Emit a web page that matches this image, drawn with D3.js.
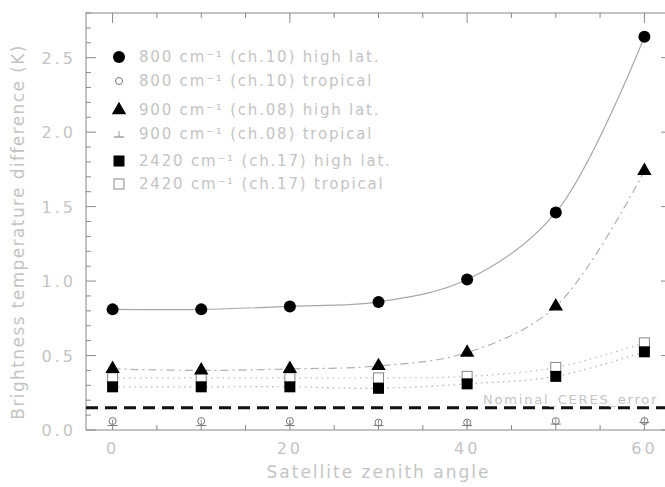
<!DOCTYPE html>
<html>
<head>
<meta charset="utf-8">
<script src="https://cdn.jsdelivr.net/npm/d3@7"></script>
<style>
  body { margin: 0; background: #fff; }
  text { font-family: "DejaVu Sans", sans-serif; fill: #c4c4c4; }
</style>
</head>
<body>
<div id="chart"></div>
<script>
// satellite zenith angle (deg)
const angles = [0, 10, 20, 30, 40, 50, 60];
// brightness temperature difference (K)
const hl800 = [0.81, 0.81, 0.83, 0.86, 1.01, 1.46, 2.64];
const tr800 = [0.06, 0.06, 0.06, 0.05, 0.05, 0.06, 0.06];
const hl900 = [0.41, 0.40, 0.41, 0.43, 0.52, 0.83, 1.74];
const tr900 = [0.05, 0.05, 0.05, 0.05, 0.05, 0.06, 0.07];
const hl2420 = [0.29, 0.29, 0.29, 0.28, 0.31, 0.36, 0.525];
const tr2420 = [0.35, 0.35, 0.35, 0.35, 0.36, 0.42, 0.585];
const ceresError = 0.15;
const xTicks = [0, 20, 40, 60];
const yTicks = [0, 0.5, 1.0, 1.5, 2.0, 2.5];
const legendLabels = [
  "800 cm\u207B\u00B9 (ch.10) high lat.",
  "800 cm\u207B\u00B9 (ch.10) tropical",
  "900 cm\u207B\u00B9 (ch.08) high lat.",
  "900 cm\u207B\u00B9 (ch.08) tropical",
  "2420 cm\u207B\u00B9 (ch.17) high lat.",
  "2420 cm\u207B\u00B9 (ch.17) tropical"
];

const width = 665, height = 487;
const margin = {top: 13, right: -6, bottom: 57, left: 86};

const svg = d3.select("#chart").append("svg")
  .attr("width", width)
  .attr("height", height);

const x = d3.scaleLinear().domain([-3, 63]).range([margin.left, width - margin.right]);
const y = d3.scaleLinear().domain([0, 2.8]).range([height - margin.bottom, margin.top]);

const axisColor = "#8a8a8a";

// frame
svg.append("rect")
  .attr("x", x(-3)).attr("y", y(2.8))
  .attr("width", x(63) - x(-3)).attr("height", y(0) - y(2.8))
  .attr("fill", "none").attr("stroke", axisColor).attr("stroke-width", 1);

// ticks
const xMinor = d3.range(0, 61, 5);
const yMinor = d3.range(0, 2.81, 0.1);
function tickLen(major) { return major ? 10 : 5; }

xMinor.forEach(v => {
  const major = v % 20 === 0;
  svg.append("line").attr("x1", x(v)).attr("x2", x(v))
    .attr("y1", y(0)).attr("y2", y(0) - tickLen(major))
    .attr("stroke", axisColor);
  svg.append("line").attr("x1", x(v)).attr("x2", x(v))
    .attr("y1", y(2.8)).attr("y2", y(2.8) + tickLen(major))
    .attr("stroke", axisColor);
});
yMinor.forEach(v => {
  const major = Math.abs(v * 2 - Math.round(v * 2)) < 1e-6;
  svg.append("line").attr("x1", x(-3)).attr("x2", x(-3) + tickLen(major))
    .attr("y1", y(v)).attr("y2", y(v)).attr("stroke", axisColor);
  svg.append("line").attr("x1", x(63)).attr("x2", x(63) - tickLen(major))
    .attr("y1", y(v)).attr("y2", y(v)).attr("stroke", axisColor);
});

// tick labels
svg.selectAll(".xlab").data(xTicks).enter().append("text")
  .attr("x", d => x(d)).attr("y", y(0) + 24)
  .attr("text-anchor", "middle").attr("font-size", 16)
  .attr("letter-spacing", 3)
  .text(d => d);
svg.selectAll(".ylab").data(yTicks).enter().append("text")
  .attr("x", 76).attr("y", d => y(d) + 6)
  .attr("text-anchor", "end").attr("font-size", 16)
  .attr("letter-spacing", 3)
  .text(d => d.toFixed(1));

// axis titles
svg.append("text")
  .attr("x", x(30)).attr("y", 478)
  .attr("text-anchor", "middle").attr("font-size", 17)
  .attr("letter-spacing", 2)
  .text("Satellite zenith angle");
svg.append("text")
  .attr("transform", `translate(24, ${y(1.33)}) rotate(-90)`)
  .attr("text-anchor", "middle").attr("font-size", 17)
  .attr("letter-spacing", 1.4)
  .text("Brightness temperature difference (K)");

// nominal error line
svg.append("line")
  .attr("x1", x(-3)).attr("x2", x(63))
  .attr("y1", y(ceresError)).attr("y2", y(ceresError))
  .attr("stroke", "#111").attr("stroke-width", 3)
  .attr("stroke-dasharray", "12,7");
svg.append("text")
  .attr("x", 483).attr("y", y(ceresError) - 4)
  .attr("font-size", 13)
  .attr("letter-spacing", 1.8)
  .text("Nominal_CERES_error");

// fit curves
const line = d3.line()
  .x((d, i) => x(angles[i]))
  .y(d => y(d))
  .curve(d3.curveCatmullRom.alpha(0.5));

svg.append("path").attr("d", line(hl800))
  .attr("fill", "none").attr("stroke", "#a8a8a8").attr("stroke-width", 1.2);
svg.append("path").attr("d", line(hl900))
  .attr("fill", "none").attr("stroke", "#b0b0b0").attr("stroke-width", 1.2)
  .attr("stroke-dasharray", "8,4,2,4");
svg.append("path").attr("d", line(hl2420))
  .attr("fill", "none").attr("stroke", "#b0b0b0").attr("stroke-width", 1.2)
  .attr("stroke-dasharray", "1.5,4");
svg.append("path").attr("d", line(tr2420))
  .attr("fill", "none").attr("stroke", "#bbb").attr("stroke-width", 1.2)
  .attr("stroke-dasharray", "1.5,4");

// marker drawing
function drawMarker(g, type, cx, cy) {
  if (type === "circle") {
    g.append("circle").attr("cx", cx).attr("cy", cy).attr("r", 6).attr("fill", "#000");
  } else if (type === "smallCircle") {
    g.append("circle").attr("cx", cx).attr("cy", cy).attr("r", 3.5)
      .attr("fill", "none").attr("stroke", "#777").attr("stroke-width", 1);
  } else if (type === "triangle") {
    g.append("path").attr("transform", `translate(${cx},${cy})`)
      .attr("d", d3.symbol(d3.symbolTriangle, 90)()).attr("fill", "#000");
  } else if (type === "bar") {
    g.append("line").attr("x1", cx - 5).attr("x2", cx + 5)
      .attr("y1", cy + 3).attr("y2", cy + 3).attr("stroke", "#777");
    g.append("line").attr("x1", cx).attr("x2", cx)
      .attr("y1", cy - 3).attr("y2", cy + 3).attr("stroke", "#999");
  } else if (type === "square") {
    g.append("rect").attr("x", cx - 5.5).attr("y", cy - 5.5)
      .attr("width", 11).attr("height", 11).attr("fill", "#000");
  } else if (type === "openSquare") {
    g.append("rect").attr("x", cx - 5).attr("y", cy - 5)
      .attr("width", 10).attr("height", 10)
      .attr("fill", "#fff").attr("stroke", "#888").attr("stroke-width", 1);
  }
}

const series = [
  {values: tr800, type: "smallCircle"},
  {values: tr900, type: "bar"},
  {values: tr2420, type: "openSquare"},
  {values: hl2420, type: "square"},
  {values: hl900, type: "triangle"},
  {values: hl800, type: "circle"}
];
const marks = svg.append("g");
series.forEach(s => {
  s.values.forEach((v, i) => drawMarker(marks, s.type, x(angles[i]), y(v)));
});

// legend
const legendTypes = ["circle", "smallCircle", "triangle", "bar", "square", "openSquare"];
const legendY = [57, 81, 110, 134, 161, 184];
const legend = svg.append("g");
legendLabels.forEach((lab, i) => {
  drawMarker(legend, legendTypes[i], 119, legendY[i]);
  legend.append("text")
    .attr("x", 139).attr("y", legendY[i] + 5)
    .attr("font-size", 15)
    .attr("letter-spacing", 1.8)
    .text(lab);
});
</script>
</body>
</html>
